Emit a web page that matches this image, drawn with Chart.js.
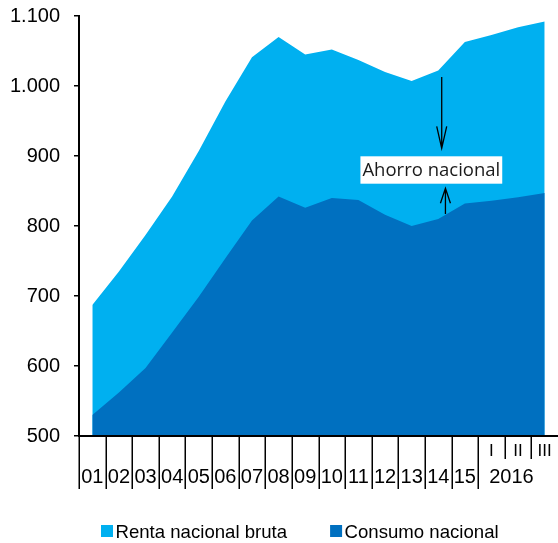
<!DOCTYPE html>
<html>
<head>
<meta charset="utf-8">
<script src="https://cdn.jsdelivr.net/npm/chart.js@4/dist/chart.umd.min.js"></script>
<style>
  html, body { margin: 0; padding: 0; background: #fff; }
  #c { display: block; }
</style>
</head>
<body>
<canvas id="c" width="558" height="543"></canvas>
<script>
// ---- Data ----
const yearLabels = ['01','02','03','04','05','06','07','08','09','10','11','12','13','14','15'];
const quarterLabels = ['I','II','III'];
const quarterYear = '2016';
const categories = [...yearLabels, ...quarterLabels];

const seriesNames = ['Renta nacional bruta', 'Consumo nacional'];
const renta   = [687, 735, 787, 842, 907, 978, 1041, 1070, 1045, 1052, 1037, 1020, 1007, 1022, 1063, 1073, 1084, 1092];
const consumo = [530, 562, 597, 648, 699, 754, 808, 842, 826, 840, 837, 816, 800, 810, 832, 836, 841, 847];

const yTicks = [500, 600, 700, 800, 900, 1000, 1100];

// annotation (data coordinates: category index, value)
const annotText = 'Ahorro nacional';
const annotPos = {x: 12.74, y: 880};
const arrowDown = {x: 13.13, from: 1013, to: 911};
const arrowUp = {x: 13.27, from: 817, to: 854};

const colors = ['#00B0F0', '#0070C0'];

function fmt(v) {
  if (v >= 1000) return Math.floor(v / 1000) + '.' + String(v % 1000).padStart(3, '0');
  return String(v);
}

const decor = {
  id: 'decor',
  afterDraw(chart) {
    const {ctx, chartArea} = chart;
    const x = chart.scales.x, y = chart.scales.y;
    const bottom = chartArea.bottom;
    const w = x.getPixelForValue(1) - x.getPixelForValue(0);
    const firstQ = yearLabels.length;
    ctx.save();
    // x tick marks
    ctx.strokeStyle = '#000';
    ctx.lineWidth = 1.5;
    for (let k = 0; k < categories.length; k++) {
      const bx = Math.round(x.getPixelForValue(k) - w / 2) + 0.25;
      const len = k > firstQ ? 23 : 53;
      ctx.beginPath();
      ctx.moveTo(bx, bottom);
      ctx.lineTo(bx, bottom + len);
      ctx.stroke();
    }
    // x labels
    ctx.fillStyle = '#000';
    ctx.textAlign = 'center';
    ctx.textBaseline = 'alphabetic';
    ctx.font = '20px "Liberation Sans", Arial, sans-serif';
    yearLabels.forEach((lab, i) => {
      ctx.fillText(lab, x.getPixelForValue(i), bottom + 47);
    });
    ctx.font = '17px "Liberation Sans", Arial, sans-serif';
    quarterLabels.forEach((lab, j) => {
      ctx.fillText(lab, x.getPixelForValue(firstQ + j), bottom + 19.5);
    });
    ctx.font = '20px "Liberation Sans", Arial, sans-serif';
    const qStart = x.getPixelForValue(firstQ) - w / 2;
    const qEnd = x.getPixelForValue(categories.length - 1);
    ctx.fillText(quarterYear, (qStart + qEnd) / 2, bottom + 47);

    // annotation box + text
    ctx.font = '18.5px "Open Sans", "Noto Sans", sans-serif';
    const tw = ctx.measureText(annotText).width;
    const cx = x.getPixelForValue(annotPos.x);
    const cy = y.getPixelForValue(annotPos.y);
    ctx.fillStyle = '#fff';
    ctx.fillRect(cx - tw / 2 - 2, cy - 13.7, tw + 4, 27.4);
    ctx.fillStyle = '#1a1a1a';
    ctx.textBaseline = 'middle';
    ctx.fillText(annotText, cx, cy + 1);

    // arrows
    ctx.strokeStyle = '#000';
    ctx.lineWidth = 1.3;
    const dx = x.getPixelForValue(arrowDown.x);
    const d1 = y.getPixelForValue(arrowDown.from), d2 = y.getPixelForValue(arrowDown.to);
    ctx.beginPath();
    ctx.moveTo(dx, d1); ctx.lineTo(dx, d2);
    ctx.moveTo(dx - 5, d2 - 22); ctx.lineTo(dx, d2); ctx.lineTo(dx + 5, d2 - 22);
    ctx.stroke();
    const ux = x.getPixelForValue(arrowUp.x);
    const u1 = y.getPixelForValue(arrowUp.from), u2 = y.getPixelForValue(arrowUp.to);
    ctx.beginPath();
    ctx.moveTo(ux, u1); ctx.lineTo(ux, u2);
    ctx.moveTo(ux - 5, u2 + 15); ctx.lineTo(ux, u2); ctx.lineTo(ux + 5, u2 + 15);
    ctx.stroke();

    // legend
    ctx.font = '18.6px "Liberation Sans", Arial, sans-serif';
    ctx.textAlign = 'left';
    ctx.textBaseline = 'alphabetic';
    let lx = 101;
    chart.data.datasets.forEach((ds, i) => {
      ctx.fillStyle = ds.backgroundColor;
      ctx.fillRect(lx, 525, 12, 12);
      ctx.fillStyle = '#000';
      ctx.fillText(ds.label, lx + 14.5, 538);
      lx += 14.5 + ctx.measureText(ds.label).width + 43;
    });
    ctx.restore();
  }
};

new Chart(document.getElementById('c'), {
  type: 'line',
  data: {
    labels: categories,
    datasets: [
      { label: seriesNames[0], data: renta, backgroundColor: colors[0], borderWidth: 0, borderColor: 'transparent', fill: 'start', pointRadius: 0, tension: 0, order: 1 },
      { label: seriesNames[1], data: consumo, backgroundColor: colors[1], borderWidth: 0, borderColor: 'transparent', fill: 'start', pointRadius: 0, tension: 0, order: 0 }
    ]
  },
  options: {
    responsive: false,
    animation: false,
    events: [],
    layout: { padding: { top: 16, right: -2, left: 0, bottom: 0 } },
    plugins: { legend: { display: false }, tooltip: { enabled: false } },
    scales: {
      x: {
        offset: true,
        grid: { display: false, drawTicks: false },
        ticks: { display: false },
        border: { display: true, color: '#000', width: 2, z: 1 },
        afterFit(s) { s.height = 107; }
      },
      y: {
        min: 500, max: 1100,
        afterBuildTicks(s) { s.ticks = yTicks.map(v => ({ value: v })); },
        ticks: {
          padding: 14,
          color: '#000',
          font: { family: '"Liberation Sans", Arial, sans-serif', size: 20 },
          callback: (v) => fmt(v)
        },
        grid: { drawOnChartArea: false, drawTicks: true, tickLength: 5, color: '#000', lineWidth: 1.5 },
        border: { display: true, color: '#000', width: 2, z: 1 },
        afterFit(s) { s.width = 79; s.paddingTop = 0; s.paddingBottom = 0; }
      }
    }
  },
  plugins: [decor]
});
</script>
</body>
</html>
